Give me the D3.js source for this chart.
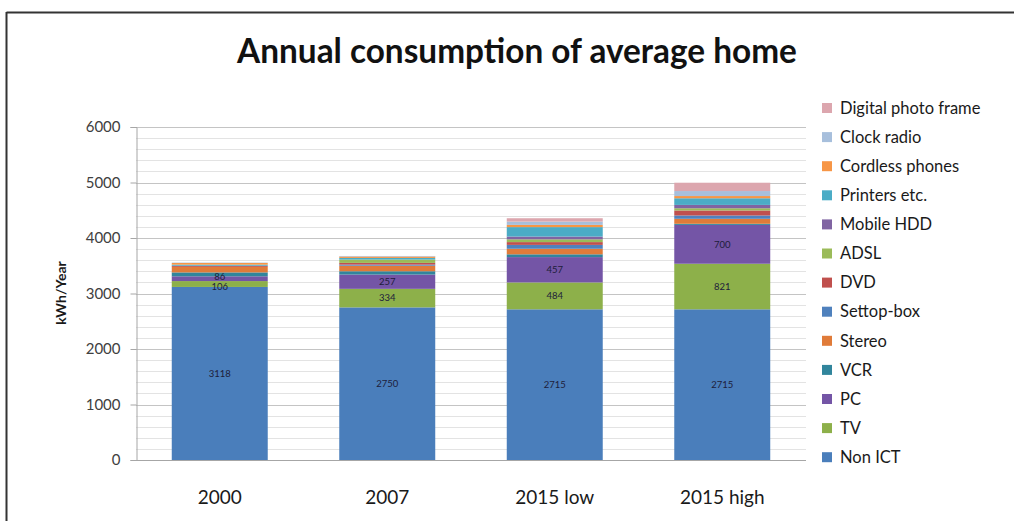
<!DOCTYPE html>
<html>
<head>
<meta charset="utf-8">
<script src="https://cdn.jsdelivr.net/npm/d3@7"></script>
<style>
  html, body { margin: 0; padding: 0; background: #fff; }
  svg { display: block; }
</style>
</head>
<body>
<svg id="chart" width="1014" height="521"></svg>
<script>
// ---- Data ----
const categories = ["2000", "2007", "2015 low", "2015 high"];
const seriesNames = ["Non ICT", "TV", "PC", "VCR", "Stereo", "Settop-box", "DVD", "ADSL",
  "Mobile HDD", "Printers etc.", "Cordless phones", "Clock radio", "Digital photo frame"];
const nonICT      = [3118, 2750, 2715, 2715];
const tv          = [106, 334, 484, 821];
const pc          = [86, 257, 457, 700];
const vcr         = [70, 60, 50, 20];
const stereo      = [100, 100, 100, 90];
const settop      = [0, 20, 70, 60];
const dvd         = [20, 30, 50, 90];
const adsl        = [0, 60, 50, 40];
const mobileHDD   = [0, 0, 50, 60];
const printers    = [20, 30, 170, 120];
const cordless    = [30, 25, 40, 40];
const clockRadio  = [7, 10, 60, 90];
const photoFrame  = [0, 0, 60, 150];
const seriesValues = [nonICT, tv, pc, vcr, stereo, settop, dvd, adsl, mobileHDD, printers, cordless, clockRadio, photoFrame];
const labelledSeries = ["Non ICT", "TV", "PC"];
const yTicks = [0, 1000, 2000, 3000, 4000, 5000, 6000];

const colors = ["#4a7ebb", "#8db04a", "#7455a6", "#31859c", "#e07b39", "#4f81bd", "#c0504d",
  "#9bbb59", "#8064a2", "#4bacc6", "#f79646", "#a7bfdc", "#dca6ae"];

// ---- Build table ----
const table = categories.map((c, i) => {
  const row = { cat: c };
  seriesNames.forEach((s, j) => row[s] = seriesValues[j][i]);
  return row;
});
const stacked = d3.stack().keys(seriesNames)(table);

const svg = d3.select("#chart");
const font = "Lato, 'Open Sans', sans-serif";

// frame
svg.append("line").attr("x1", 6.5).attr("x2", 1014).attr("y1", 12.5).attr("y2", 12.5)
  .attr("stroke", "#333").attr("stroke-width", 2);
svg.append("line").attr("x1", 6.5).attr("x2", 6.5).attr("y1", 12).attr("y2", 521)
  .attr("stroke", "#333").attr("stroke-width", 2);

const x = d3.scaleBand().domain(categories).range([136, 806]).paddingInner(0.427).paddingOuter(0.2135);
const y = d3.scaleLinear().domain([0, 6000]).range([460, 127]);

// minor grid
const minor = d3.range(200, 6001, 200).filter(v => v % 1000 !== 0);
svg.append("g").selectAll("line").data(minor).join("line")
  .attr("x1", 136).attr("x2", 806)
  .attr("y1", d => Math.round(y(d)) + 0.5).attr("y2", d => Math.round(y(d)) + 0.5)
  .attr("stroke", "#e3e3e3").attr("stroke-width", 1);
// major grid
svg.append("g").selectAll("line").data(yTicks.filter(d => d > 0)).join("line")
  .attr("x1", 136).attr("x2", 806)
  .attr("y1", d => Math.round(y(d)) + 0.5).attr("y2", d => Math.round(y(d)) + 0.5)
  .attr("stroke", "#c4c4c4").attr("stroke-width", 1);

// y axis
const yAxis = svg.append("g").attr("transform", "translate(136.5,0)")
  .call(d3.axisLeft(y).tickValues(yTicks).tickFormat(d3.format("d")).tickSize(6).tickPadding(10));
yAxis.select(".domain").attr("stroke", "#a6a6a6");
yAxis.selectAll(".tick line").attr("stroke", "#a6a6a6");
yAxis.selectAll(".tick text").attr("font-family", font).attr("font-size", 15).attr("fill", "#404040");

// bars
const layers = svg.append("g").selectAll("g").data(stacked).join("g")
  .attr("fill", (d, i) => colors[i]);
layers.selectAll("rect").data(d => d).join("rect")
  .attr("x", d => x(d.data.cat))
  .attr("width", x.bandwidth())
  .attr("y", d => y(d[1]))
  .attr("height", d => y(d[0]) - y(d[1]));

// data labels (thin segments nudged apart slightly)
stacked.filter(s => labelledSeries.includes(s.key)).forEach(s => {
  svg.append("g").selectAll("text").data(s).join("text")
    .attr("x", d => x(d.data.cat) + x.bandwidth() / 2)
    .attr("y", d => {
      const mid = (y(d[0]) + y(d[1])) / 2;
      const h = y(d[0]) - y(d[1]);
      if (h < 8) return s.key === "PC" ? mid - 2.5 : mid + 2.5;
      return mid;
    })
    .attr("dy", "0.35em")
    .attr("text-anchor", "middle")
    .attr("font-family", font).attr("font-size", 9.5)
    .attr("fill", "#1d1d3a")
    .text(d => d[1] - d[0]);
});

// x axis
svg.append("line").attr("x1", 136).attr("x2", 806).attr("y1", 460.5).attr("y2", 460.5)
  .attr("stroke", "#a6a6a6");
svg.append("g").selectAll("text").data(categories).join("text")
  .attr("x", d => x(d) + x.bandwidth() / 2)
  .attr("y", 504)
  .attr("text-anchor", "middle")
  .attr("font-family", font).attr("font-size", 19).attr("fill", "#1a1a1a")
  .text(d => d);

// y label
svg.append("text")
  .attr("transform", "translate(66,293) rotate(-90)")
  .attr("text-anchor", "middle")
  .attr("font-family", font).attr("font-size", 14).attr("font-weight", "bold").attr("fill", "#1a1a1a")
  .text("kWh/Year");

// title
const title = svg.append("text")
  .attr("x", 517).attr("y", 63)
  .attr("text-anchor", "middle")
  .attr("font-family", font).attr("font-size", 30).attr("font-weight", "bold").attr("fill", "#111")
  .text("Annual consumption of average home");
const tw = title.node().getComputedTextLength();
title.attr("font-size", 30 * 560 / tw);

// legend (top to bottom: reversed series order)
const legendItems = seriesNames.map((s, i) => ({ name: s, color: colors[i] })).reverse();
const lg = svg.append("g").selectAll("g").data(legendItems).join("g")
  .attr("transform", (d, i) => `translate(822,${108 + i * 29.1})`);
lg.append("rect").attr("x", 0).attr("y", -5).attr("width", 10).attr("height", 10)
  .attr("fill", d => d.color);
lg.append("text").attr("x", 18).attr("y", 0).attr("dy", "0.35em")
  .attr("font-family", font).attr("font-size", 16.5).attr("fill", "#1a1a1a")
  .text(d => d.name);
</script>
</body>
</html>
